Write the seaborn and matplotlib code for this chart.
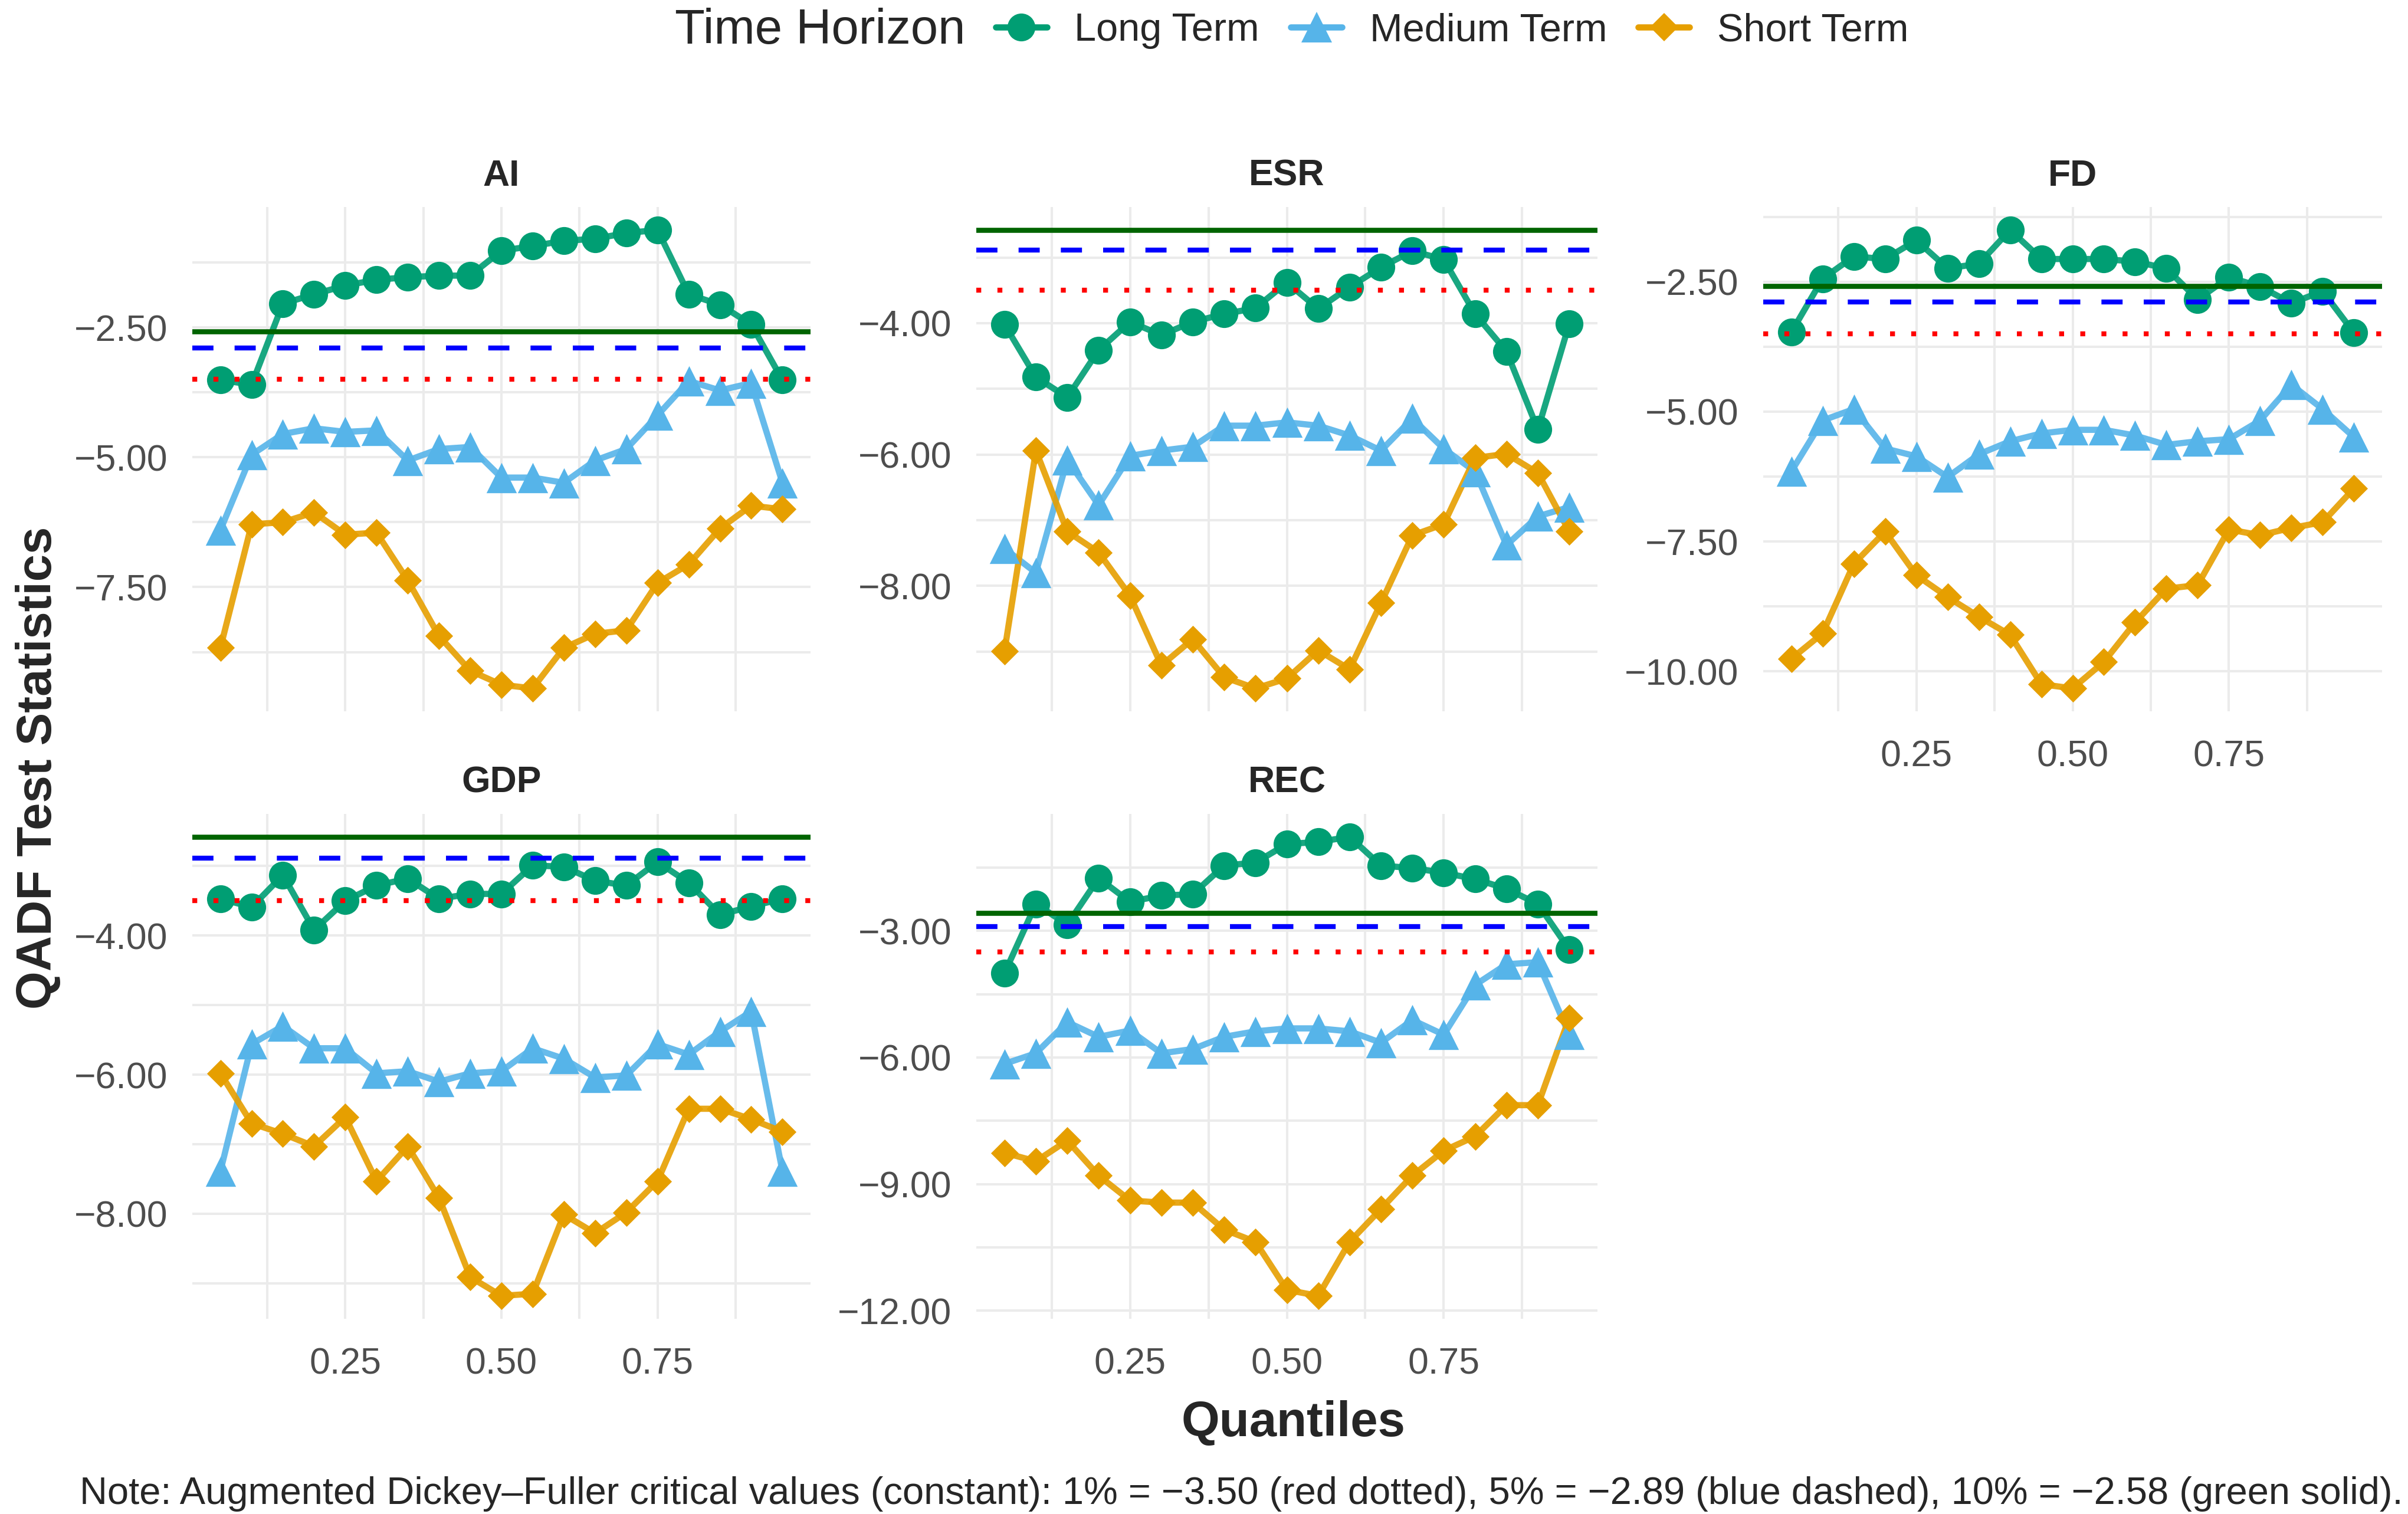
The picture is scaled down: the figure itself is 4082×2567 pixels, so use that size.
import numpy as np
import pandas as pd
import matplotlib
matplotlib.use("Agg")
import matplotlib.pyplot as plt
from matplotlib.lines import Line2D
from matplotlib.ticker import MultipleLocator
import seaborn as sns

# quantile grid
quantiles = [0.05, 0.10, 0.15, 0.20, 0.25, 0.30, 0.35, 0.40, 0.45, 0.50,
             0.55, 0.60, 0.65, 0.70, 0.75, 0.80, 0.85, 0.90, 0.95]

# QADF statistics
ai_long = [-3.51, -3.60, -2.04, -1.86, -1.69, -1.58, -1.53, -1.50, -1.50, -1.02,
           -0.93, -0.83, -0.79, -0.68, -0.62, -1.86, -2.06, -2.44, -3.51]
ai_medium = [-6.40, -4.95, -4.55, -4.44, -4.51, -4.48, -5.06, -4.84, -4.80, -5.39,
             -5.39, -5.49, -5.06, -4.84, -4.19, -3.53, -3.71, -3.57, -5.49]
ai_short = [-8.67, -6.29, -6.25, -6.06, -6.49, -6.45, -7.37, -8.44, -9.11, -9.38,
            -9.45, -8.67, -8.40, -8.33, -7.42, -7.06, -6.37, -5.93, -6.00]

esr_long = [-4.02, -4.82, -5.13, -4.41, -3.98, -4.18, -3.98, -3.86, -3.77, -3.38,
            -3.78, -3.45, -3.15, -2.90, -3.03, -3.86, -4.43, -5.62, -4.01]
esr_medium = [-7.43, -7.80, -6.08, -6.77, -6.02, -5.94, -5.88, -5.56, -5.56, -5.51,
              -5.56, -5.71, -5.94, -5.45, -5.91, -6.26, -7.38, -6.94, -6.80]
esr_short = [-8.99, -5.94, -7.17, -7.49, -8.15, -9.21, -8.81, -9.39, -9.56, -9.41,
             -8.98, -9.27, -8.26, -7.23, -7.06, -6.05, -5.99, -6.28, -7.17]

fd_long = [-3.47, -2.44, -2.01, -2.06, -1.70, -2.24, -2.15, -1.50, -2.06, -2.06,
           -2.06, -2.11, -2.24, -2.84, -2.41, -2.59, -2.91, -2.68, -3.48]
fd_medium = [-6.15, -5.17, -4.95, -5.71, -5.86, -6.26, -5.82, -5.57, -5.42, -5.35,
             -5.35, -5.46, -5.64, -5.57, -5.53, -5.17, -4.48, -4.95, -5.49]
fd_short = [-9.76, -9.27, -7.93, -7.31, -8.15, -8.57, -8.95, -9.30, -10.25, -10.33,
            -9.82, -9.06, -8.41, -8.34, -7.27, -7.38, -7.24, -7.13, -6.48]

gdp_long = [-3.47, -3.59, -3.13, -3.92, -3.50, -3.28, -3.18, -3.47, -3.40, -3.40,
            -2.99, -3.01, -3.21, -3.28, -2.94, -3.24, -3.70, -3.58, -3.47]
gdp_medium = [-7.39, -5.56, -5.30, -5.62, -5.62, -5.98, -5.95, -6.10, -5.98, -5.95,
              -5.62, -5.77, -6.04, -6.01, -5.56, -5.71, -5.38, -5.09, -7.39]
gdp_short = [-5.98, -6.70, -6.85, -7.03, -6.61, -7.53, -7.03, -7.77, -8.91, -9.18,
             -9.15, -8.01, -8.28, -7.98, -7.53, -6.49, -6.49, -6.64, -6.82]

rec_long = [-4.00, -2.36, -2.85, -1.75, -2.31, -2.16, -2.13, -1.45, -1.38, -0.94,
            -0.89, -0.77, -1.45, -1.51, -1.62, -1.77, -2.00, -2.36, -3.44]
rec_medium = [-6.15, -5.90, -5.16, -5.51, -5.36, -5.90, -5.80, -5.51, -5.38, -5.31,
              -5.31, -5.38, -5.65, -5.11, -5.46, -4.28, -3.79, -3.74, -5.46]
rec_short = [-8.26, -8.46, -7.97, -8.80, -9.39, -9.44, -9.44, -10.08, -10.37, -11.51,
             -11.65, -10.37, -9.59, -8.80, -8.21, -7.87, -7.13, -7.13, -5.06]

variables = ["AI", "ESR", "FD", "GDP", "REC"]
horizons = ["Long Term", "Medium Term", "Short Term"]
series = {
    "AI": [ai_long, ai_medium, ai_short],
    "ESR": [esr_long, esr_medium, esr_short],
    "FD": [fd_long, fd_medium, fd_short],
    "GDP": [gdp_long, gdp_medium, gdp_short],
    "REC": [rec_long, rec_medium, rec_short],
}
y_ticks = {
    "AI": [-7.5, -5.0, -2.5],
    "ESR": [-8.0, -6.0, -4.0],
    "FD": [-10.0, -7.5, -5.0, -2.5],
    "GDP": [-8.0, -6.0, -4.0],
    "REC": [-12.0, -9.0, -6.0, -3.0],
}
x_ticks = [0.25, 0.50, 0.75]

# ADF critical values
crit_1, crit_5, crit_10 = -3.50, -2.89, -2.58

palette = {"Long Term": "#009E73", "Medium Term": "#56B4E9", "Short Term": "#E69F00"}
marker_map = {"Long Term": "o", "Medium Term": "^", "Short Term": "D"}
marker_size = {"Long Term": 17, "Medium Term": 18.5, "Short Term": 12}

rows = []
for var in variables:
    for h, vals in zip(horizons, series[var]):
        for q, v in zip(quantiles, vals):
            rows.append({"variable": var, "horizon": h, "quantile": q, "stat": v})
df = pd.DataFrame(rows)

sns.set_style("white")
plt.rcParams['font.family'] = ['Liberation Sans', 'DejaVu Sans']

W, H = 4082, 2567
fig = plt.figure(figsize=(W / 200, H / 200), dpi=200)

# panel boxes in pixels: left, top, right, bottom
boxes = {
    "AI": (326, 351, 1374, 1206),
    "ESR": (1655, 351, 2708, 1206),
    "FD": (2989, 351, 4038, 1206),
    "GDP": (326, 1380, 1374, 2236),
    "REC": (1655, 1380, 2708, 2236),
}
show_x = {"AI": False, "ESR": False, "FD": True, "GDP": True, "REC": True}

for var in variables:
    l, t, r, b = boxes[var]
    ax = fig.add_axes([l / W, 1 - b / H, (r - l) / W, (b - t) / H])
    sub = df[df["variable"] == var]

    # lines first, then the points on top (as ggplot layers them)
    sns.lineplot(data=sub, x="quantile", y="stat", hue="horizon", palette=palette,
                 hue_order=horizons, linewidth=3.8, alpha=0.9, errorbar=None,
                 legend=False, ax=ax, zorder=3)
    for h in horizons:
        d = sub[sub["horizon"] == h]
        sns.scatterplot(data=d, x="quantile", y="stat", color=palette[h],
                        marker=marker_map[h], s=marker_size[h] ** 2, linewidth=0,
                        legend=False, ax=ax, zorder=4)

    ax.axhline(crit_10, color="#006400", lw=3.1, ls="-", zorder=5)
    ax.axhline(crit_5, color="#0000FF", lw=3, ls=(0, (4.3, 4.3)), zorder=5)
    ax.axhline(crit_1, color="#FF0000", lw=3, ls=(0, (1, 3.3)), zorder=5)

    lo = min(sub["stat"].min(), crit_1)
    hi = max(sub["stat"].max(), crit_10)
    pad = 0.05 * (hi - lo)
    ax.set_ylim(lo - pad, hi + pad)
    ax.set_xlim(0.05 - 0.045, 0.95 + 0.045)

    ticks = y_ticks[var]
    ax.set_yticks(ticks, labels=[f"{v:.2f}".replace("-", "\u2212") for v in ticks])
    ax.yaxis.set_minor_locator(MultipleLocator((ticks[1] - ticks[0]) / 2))
    ax.set_xticks(x_ticks, labels=[f"{v:.2f}" for v in x_ticks])
    ax.xaxis.set_minor_locator(MultipleLocator(0.125))

    ax.grid(which="major", color="#EBEBEB", lw=1.45)
    ax.grid(which="minor", color="#EBEBEB", lw=1.45)
    ax.set_axisbelow(True)
    ax.tick_params(which="both", length=0)
    ax.tick_params(axis="y", labelsize=22.5, labelcolor="#4D4D4D", pad=15)
    ax.tick_params(axis="x", labelsize=22.5, labelcolor="#4D4D4D", pad=17,
                   labelbottom=show_x[var])
    for s in ax.spines.values():
        s.set_visible(False)
    ax.set_xlabel("")
    ax.set_ylabel("")
    ax.set_title(var, fontsize=22.5, fontweight="bold", pad=13)

# legend across the top
fig.text(1144 / W, 1 - 52 / H, "Time Horizon", fontsize=30, va="center", ha="left")
handles = [Line2D([], [], color=palette[h], marker=marker_map[h], lw=3.8,
                  markersize=marker_size[h], markeredgewidth=0) for h in horizons]
fig.legend(handles, horizons, loc="center left", bbox_to_anchor=(1688 / W, 1 - 52 / H),
           ncol=3, frameon=False, fontsize=24, handlelength=1.3, handletextpad=0.7,
           columnspacing=0.8, borderpad=0, borderaxespad=0)

fig.text(2193 / W, 1 - 2413 / H, "Quantiles", fontsize=30, fontweight="bold",
         ha="center", va="center")
fig.text(65 / W, 1 - 1302 / H, "QADF Test Statistics", fontsize=30, fontweight="bold",
         rotation=90, ha="center", va="center")
fig.text(0.998, 1 - 2533 / H,
         "Note: Augmented Dickey\u2013Fuller critical values (constant): 1% = \u22123.50 (red dotted), "
         "5% = \u22122.89 (blue dashed), 10% = \u22122.58 (green solid).",
         fontsize=23.4, ha="right", va="center")

fig.savefig("out.png", dpi=200)
